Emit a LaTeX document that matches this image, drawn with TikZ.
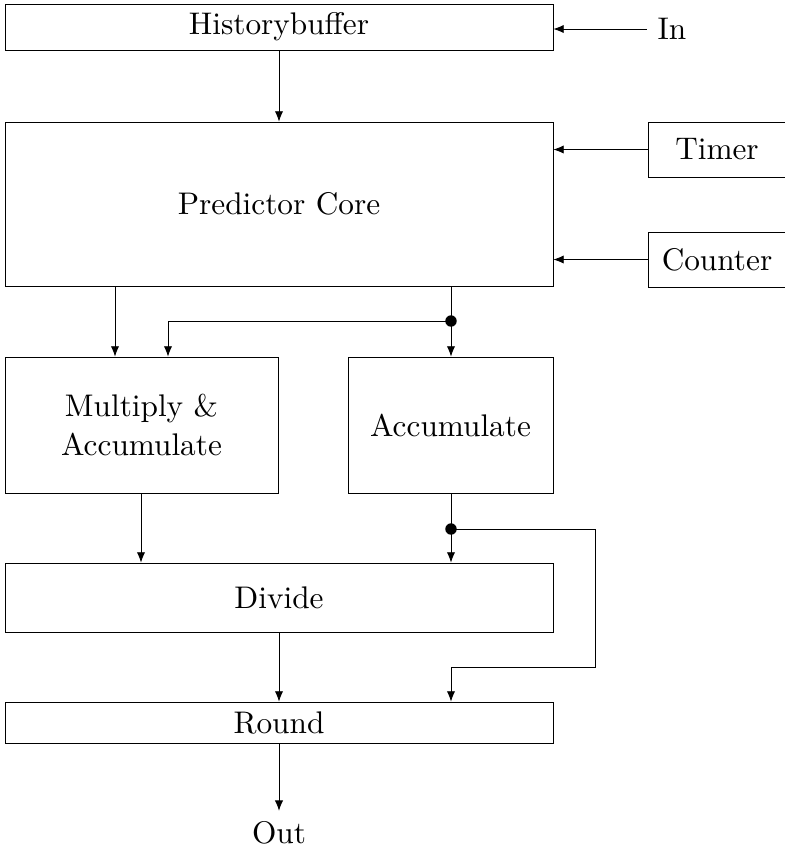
\documentclass[11pt,tikz,border=0pt]{standalone}
\usepackage{tikz}
\usetikzlibrary{positioning, calc, arrows.meta}

\begin{document}
\begin{tikzpicture}[x=0.35pt, y=-0.35pt, >={Latex[length=3.6pt,width=2.9pt]},
    line width=0.3pt,
    block/.style={draw, minimum width=191.8pt, inner sep=0pt, align=center},
    side/.style={draw, minimum width=48.3pt, minimum height=19.25pt, inner sep=0pt},
    flow/.style={->},
    junction/.style={circle, fill, inner sep=0pt, minimum size=4pt}]
    \useasboundingbox (0,0) rectangle (785,855);

    % main chain
    \node[block, minimum height=16.1pt] (hist) at (279,27) {Historybuffer};
    \node[block, minimum height=57.4pt] (core) at (279,204) {Predictor Core};
    \node[block, minimum width=95.55pt, minimum height=47.6pt] (mac) at (141.5,425) {Multiply \&\\Accumulate};
    \node[block, minimum width=71.75pt, minimum height=47.6pt] (acc) at (450.5,425) {Accumulate};
    \node[block, minimum height=24.15pt] (div) at (279,597.5) {Divide};
    \node[block, minimum height=14.35pt] (rnd) at (279,722.5) {Round};

    % inputs and output
    \node (in) at (672,29) {In};
    \node[side] (timer) at (717,149.5) {Timer};
    \node[side] (counter) at (717,259.5) {Counter};
    \node (out) at (279,833) {Out};

    \coordinate (j1) at (451,321);
    \coordinate (j2) at (451,529);

    \draw[flow] (in.west) -- (in.west -| hist.east);
    \draw[flow] (hist) -- (core);
    \draw[flow] (timer.west) -- (timer.west -| core.east);
    \draw[flow] (counter.west) -- (counter.west -| core.east);

    \draw[flow] (115,0 |- core.south) -- (115,0 |- mac.north);
    \draw[flow] (j1 |- core.south) -- (j1 |- acc.north);
    \draw[flow] (j1) -- (168,321) -- (168,0 |- mac.north);
    \node[junction] at (j1) {};

    \draw[flow] (141,0 |- mac.south) -- (141,0 |- div.north);
    \draw[flow] (j2 |- acc.south) -- (j2 |- div.north);
    \draw[flow] (j2) -- (595,529) -- (595,667) -- (451,667) -- (451,0 |- rnd.north);
    \node[junction] at (j2) {};

    \draw[flow] (div) -- (rnd);
    \draw[flow] (rnd) -- (out);
\end{tikzpicture}
\end{document}
